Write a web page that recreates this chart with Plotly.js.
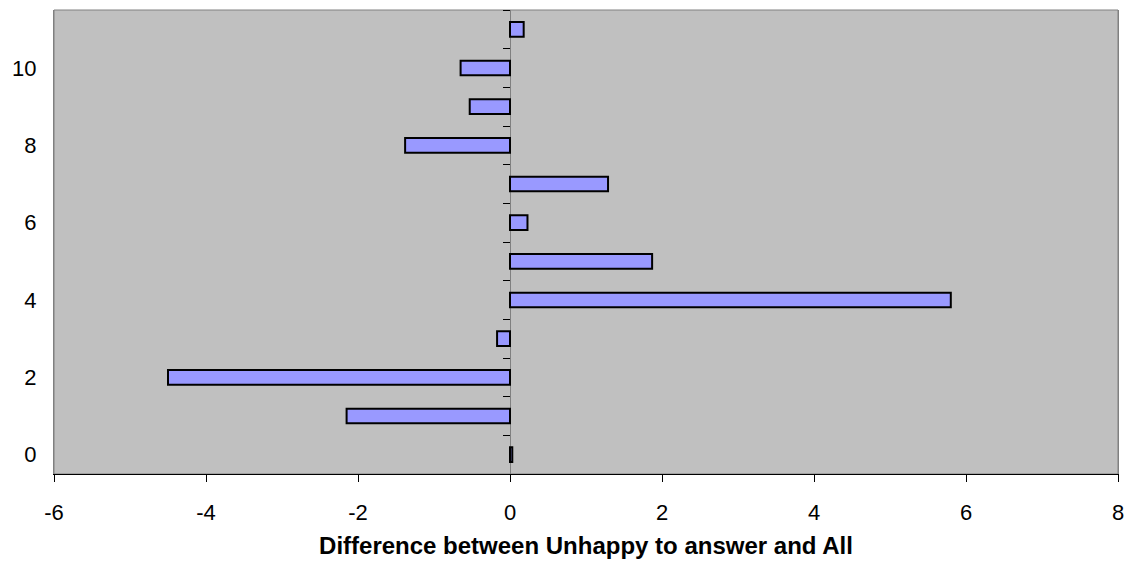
<!DOCTYPE html>
<html>
<head>
<meta charset="utf-8">
<script src="https://cdn.plot.ly/plotly-3.0.1.min.js"></script>
<style>html,body{margin:0;padding:0;background:#fff;}#chart{width:1134px;height:570px;}</style>
</head>
<body>
<div id="chart"></div>
<script>
// Categories (0..11) and the difference values
const categories = [0, 1, 2, 3, 4, 5, 6, 7, 8, 9, 10, 11];
const differences = [0.03, -2.15, -4.50, -0.17, 5.80, 1.87, 0.23, 1.29, -1.38, -0.53, -0.65, 0.18];
const yTickLabels = [0, 2, 4, 6, 8, 10];
const xTickLabels = [-6, -4, -2, 0, 2, 4, 6, 8];
const xTitle = 'Difference between Unhappy to answer and All';

const font = 'Liberation Sans, Arial, sans-serif';
const yRange = [categories[0] - 0.5, categories[categories.length - 1] + 0.5];
const boundaries = [categories[0] - 0.5].concat(categories.map(c => c + 0.5));

const bars = {
  type: 'bar',
  orientation: 'h',
  x: differences,
  y: categories,
  width: 0.38,
  marker: {color: '#9999FF', line: {color: '#000000', width: 2}},
  hoverinfo: 'x+y',
  showlegend: false
};
const tickHolder = {
  type: 'scatter', mode: 'markers', x: [], y: [], yaxis: 'y2',
  showlegend: false, hoverinfo: 'skip'
};

const xMin = xTickLabels[0], xMax = xTickLabels[xTickLabels.length - 1];

const layout = {
  width: 1134, height: 570,
  margin: {l: 54, r: 16, t: 10, b: 96},
  paper_bgcolor: '#FFFFFF',
  plot_bgcolor: '#C0C0C0',
  showlegend: false,
  font: {family: font, size: 22, color: '#000000'},
  xaxis: {
    range: [xMin, xMax],
    tickvals: xTickLabels,
    ticktext: xTickLabels.map(String),
    ticks: 'outside', ticklen: 7, tickcolor: '#000000', tickwidth: 1,
    showline: true, linecolor: '#000000', linewidth: 1,
    showgrid: false,
    zeroline: true, zerolinecolor: '#808080', zerolinewidth: 1,
    ticklabelstandoff: 12,
    tickfont: {family: font, size: 22, color: '#000000'},
    title: {text: '<b>' + xTitle + '</b>', font: {family: font, size: 24, color: '#000000'}, standoff: 12}
  },
  yaxis: {
    range: yRange,
    tickvals: yTickLabels,
    ticktext: yTickLabels.map(String),
    ticks: '',
    showline: true, linecolor: '#808080', linewidth: 1, mirror: true,
    showgrid: false, zeroline: false,
    ticklabelstandoff: 12,
    tickfont: {family: font, size: 22, color: '#000000'}
  },
  yaxis2: {
    overlaying: 'y', anchor: 'free', side: 'left',
    position: (0 - xMin) / (xMax - xMin),
    range: yRange,
    tickvals: boundaries,
    ticks: 'outside', ticklen: 7, tickcolor: '#000000', tickwidth: 1,
    showticklabels: false, showline: false, showgrid: false, zeroline: false
  },
  shapes: [{
    type: 'rect', xref: 'paper', yref: 'paper', x0: 0, x1: 1, y0: 0, y1: 1,
    line: {color: '#808080', width: 1}, fillcolor: 'rgba(0,0,0,0)', layer: 'below'
  }]
};

Plotly.newPlot('chart', [bars, tickHolder], layout, {displayModeBar: false, staticPlot: true});
</script>
</body>
</html>
